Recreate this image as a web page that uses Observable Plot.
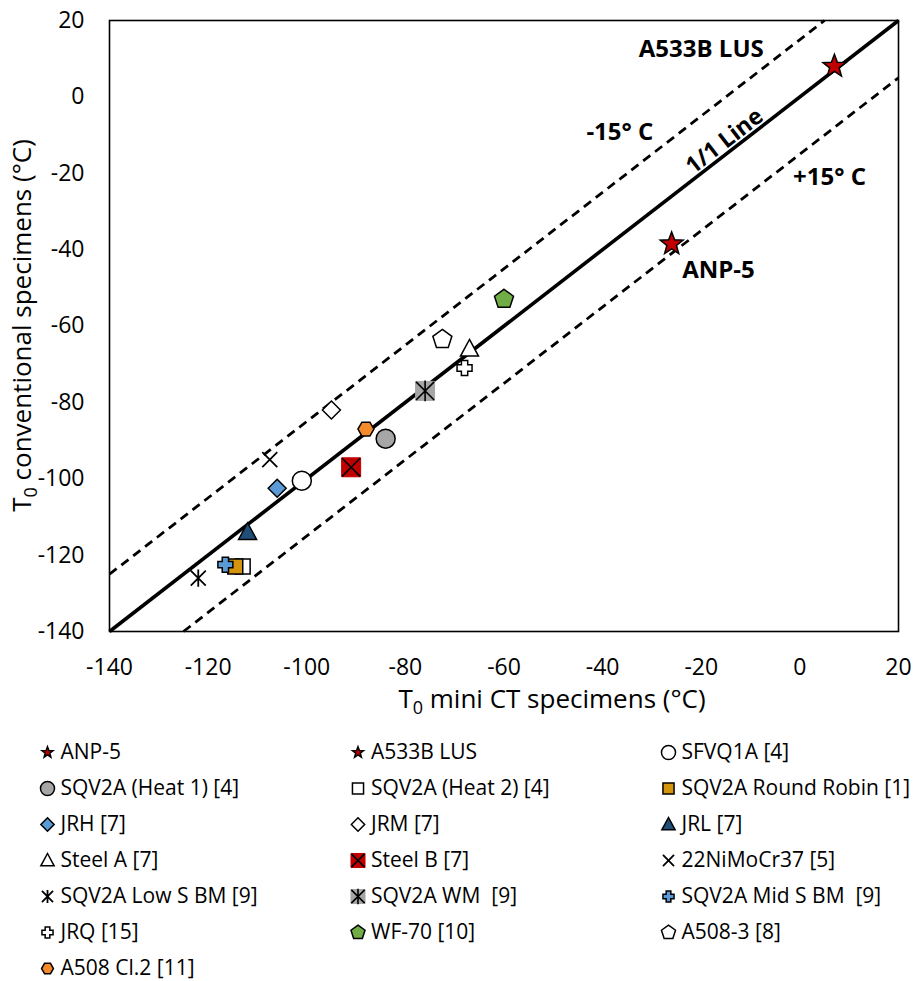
<!DOCTYPE html>
<html>
<head>
<meta charset="utf-8">
<script src="https://cdn.jsdelivr.net/npm/d3@7"></script>
<script src="https://cdn.jsdelivr.net/npm/@observablehq/plot@0.6"></script>
<style>
  body { margin: 0; background: #fff; font-family: "Open Sans", sans-serif; }
  #chart svg { display: block; }
</style>
</head>
<body>
<div id="chart"></div>
<script>
// ---------------- DATA ----------------
const series = [
  "ANP-5", "A533B LUS", "SFVQ1A [4]",
  "SQV2A (Heat 1) [4]", "SQV2A (Heat 2) [4]", "SQV2A Round Robin [1]",
  "JRH [7]", "JRM [7]", "JRL [7]",
  "Steel A [7]", "Steel B [7]", "22NiMoCr37 [5]",
  "SQV2A Low S BM [9]", "SQV2A WM  [9]", "SQV2A Mid S BM  [9]",
  "JRQ [15]", "WF-70 [10]", "A508-3 [8]",
  "A508 Cl.2 [11]"
];
// T0 from mini CT specimens (°C)
const t0MiniCT = [
  -26, 7, -101,
  -84, -113, -114.5,
  -106, -95, -112,
  -67, -91, -107.5,
  -122, -76, -116.5,
  -68, -60, -72.5,
  -88
];
// T0 from conventional specimens (°C)
const t0Conventional = [
  -38.5, 8, -100.5,
  -89.5, -123, -123,
  -102.5, -82, -114,
  -66, -97, -95,
  -126, -77, -122.5,
  -71, -53, -63.5,
  -87
];
const xTicks = [-140, -120, -100, -80, -60, -40, -20, 0, 20];
const yTicks = [-140, -120, -100, -80, -60, -40, -20, 0, 20];
const refOffsets = [0, 15, -15];            // 1/1 line and ±15 °C bands
const annotationText = ["A533B LUS", "-15° C", "1/1 Line", "+15° C", "ANP-5"];
const annotationX = [-20, -36.5, -15.3, 6, -16.5];
const annotationY = [12.4, -9.3, -11.6, -21.1, -45.5];

// ---------------- STYLE ----------------
const markerShape = [
  "star", "star", "circle",
  "circle", "square", "square",
  "diamond", "diamond", "triangle",
  "triangle", "squareX", "times",
  "asterisk", "squareAst", "plus",
  "plus", "pentagon", "pentagon",
  "hexagon"
];
const markerFill = [
  "#C00000", "#C00000", "#FFFFFF",
  "#A6A6A6", "#FFFFFF", "#D4940C",
  "#5B9BD5", "#FFFFFF", "#1F4E79",
  "#FFFFFF", "#C00000", "none",
  "none", "#A5A5A5", "#5B9BD5",
  "#FFFFFF", "#70AD47", "#FFFFFF",
  "#F58A2A"
];
const markerR = [
  12, 12, 9.5,
  9.5, 7.5, 7.5,
  9, 9, 9,
  9, 9.5, 7.5,
  7.5, 9.5, 7.5,
  7.5, 10, 10,
  8
];

const poly = pts => ({
  draw(ctx, size) {
    const r = Math.sqrt(size / Math.PI);
    pts.forEach(([x, y], i) => i ? ctx.lineTo(x * r, y * r) : ctx.moveTo(x * r, y * r));
    ctx.closePath();
  }
});
const ngon = (n, a0) => d3.range(n).map(i => [Math.cos(a0 + 2 * Math.PI * i / n), Math.sin(a0 + 2 * Math.PI * i / n)]);
const a = 0.42;
const SHAPES = {
  circle: { draw(ctx, size) { const r = Math.sqrt(size / Math.PI); ctx.moveTo(r, 0); ctx.arc(0, 0, r, 0, 2 * Math.PI); ctx.closePath(); } },
  square: poly([[-1, -1], [1, -1], [1, 1], [-1, 1]]),
  diamond: poly([[0, -1], [1, 0], [0, 1], [-1, 0]]),
  triangle: poly([[0, -1.05], [1, 0.8], [-1, 0.8]]),
  pentagon: poly(ngon(5, -Math.PI / 2)),
  hexagon: poly(ngon(6, 0)),
  plus: poly([[-a, -1], [a, -1], [a, -a], [1, -a], [1, a], [a, a], [a, 1], [-a, 1], [-a, a], [-1, a], [-1, -a], [-a, -a]]),
  star: poly(d3.range(10).map(i => { const t = -Math.PI / 2 + Math.PI * i / 5, k = i % 2 ? 0.42 : 1; return [k * Math.cos(t), k * Math.sin(t)]; })),
  times: { draw(ctx, size) { const r = Math.sqrt(size / Math.PI); ctx.moveTo(-r, -r); ctx.lineTo(r, r); ctx.moveTo(-r, r); ctx.lineTo(r, -r); } },
  asterisk: { draw(ctx, size) { const r = Math.sqrt(size / Math.PI); ctx.moveTo(-r, -r); ctx.lineTo(r, r); ctx.moveTo(-r, r); ctx.lineTo(r, -r); ctx.moveTo(0, -r * 1.15); ctx.lineTo(0, r * 1.15); } }
};

// build dot marks for a series (possibly layered shapes)
function seriesMarks(i, pos, rScale) {
  const shape = markerShape[i], fill = markerFill[i];
  const r = shape === "star" && rScale < 1 ? 5.8 : markerR[i] * rScale;
  const d = [pos];
  const base = { x: "x", y: "y", r };
  if (shape === "squareX" || shape === "squareAst") {
    return [
      Plot.dot(d, { ...base, symbol: SHAPES.square, fill, stroke: fill, strokeWidth: 1 }),
      Plot.dot(d, { ...base, r: r * 0.95, symbol: shape === "squareX" ? SHAPES.times : SHAPES.asterisk, fill: "none", stroke: "#000", strokeWidth: 1.6 })
    ];
  }
  if (shape === "times" || shape === "asterisk") {
    return [Plot.dot(d, { ...base, symbol: SHAPES[shape], fill: "none", stroke: "#000", strokeWidth: 1.8 })];
  }
  return [Plot.dot(d, { ...base, symbol: SHAPES[shape], fill, stroke: "#000", strokeWidth: 1.5 })];
}

// ---------------- MAIN CHART ----------------
const width = 921, height = 725;
const mL = 109, mR = 23, mT = 20, mB = 94;
const [lo, hi] = [-140, 20];

const refLines = refOffsets.map(off => {
  const x1 = Math.max(lo, lo - off), x2 = Math.min(hi, hi - off);
  return { off, x1, y1: x1 + off, x2, y2: x2 + off };
});
const points = series.map((s, i) => ({ name: s, x: t0MiniCT[i], y: t0Conventional[i] }));
const annotations = annotationText.map((t, i) => ({ t, x: annotationX[i], y: annotationY[i] }));
const lineAngle = -Math.atan((height - mT - mB) / (width - mL - mR)) * 180 / Math.PI;

const main = Plot.plot({
  width, height,
  marginLeft: mL, marginRight: mR, marginTop: mT, marginBottom: mB,
  style: { fontFamily: "'Open Sans', sans-serif", fontSize: "23px", color: "#000", background: "#fff", overflow: "visible" },
  x: { domain: [lo, hi], ticks: xTicks, tickSize: 0, tickPadding: 27, tickFormat: d => String(d), label: null },
  y: { domain: [lo, hi], ticks: yTicks, tickSize: 0, tickPadding: 25, tickFormat: d => String(d), label: null },
  marks: [
    Plot.link(refLines.filter(d => d.off !== 0), { x1: "x1", y1: "y1", x2: "x2", y2: "y2", stroke: "#000", strokeWidth: 2.8, strokeDasharray: "9,6" }),
    Plot.link(refLines.filter(d => d.off === 0), { x1: "x1", y1: "y1", x2: "x2", y2: "y2", stroke: "#000", strokeWidth: 3.6 }),
    ...points.flatMap((p, i) => seriesMarks(i, p, 1)),
    Plot.text(annotations.filter(d => d.t !== "1/1 Line"), { x: "x", y: "y", text: "t", fontWeight: "bold", fontSize: 24, fill: "#000" }),
    Plot.text(annotations.filter(d => d.t === "1/1 Line"), { x: "x", y: "y", text: "t", fontWeight: "bold", fontSize: 23, rotate: lineAngle, fill: "#000" }),
    Plot.frame({ stroke: "#000", strokeWidth: 1.6 })
  ]
});

// axis titles with subscript
const svg = d3.select(main);
const xt = svg.append("text")
  .attr("x", 552).attr("y", 708)
  .attr("text-anchor", "middle")
  .attr("font-size", 26).attr("fill", "#000");
xt.append("tspan").text("T");
xt.append("tspan").attr("font-size", 18).attr("dy", 6).text("0");
xt.append("tspan").attr("dy", -6).text(" mini CT specimens (°C)");

const yt = svg.append("text")
  .attr("transform", `translate(31,${(mT + height - mB) / 2}) rotate(-90)`)
  .attr("text-anchor", "middle")
  .attr("font-size", 26).attr("fill", "#000");
yt.append("tspan").text("T");
yt.append("tspan").attr("font-size", 18).attr("dy", 6).text("0");
yt.append("tspan").attr("dy", -6).text(" conventional specimens (°C)");

document.getElementById("chart").appendChild(main);

// ---------------- LEGEND ----------------
const legendItems = series.map((s, i) => ({ name: s, x: i % 3, y: Math.floor(i / 3) }));
const legend = Plot.plot({
  width, height: 256,
  margin: 0,
  style: { fontFamily: "'Open Sans', sans-serif", fontSize: "21px", color: "#000", background: "#fff", overflow: "visible" },
  x: { domain: [0, 2], range: [47, 668], axis: null },
  y: { domain: [0, 6], range: [27, 243], axis: null },
  marks: [
    ...legendItems.flatMap((p, i) => seriesMarks(i, p, 0.74)),
    Plot.text(legendItems, { x: "x", y: "y", text: "name", textAnchor: "start", dx: 13, fontSize: 21, fill: "#000" })
  ]
});
document.getElementById("chart").appendChild(legend);
</script>
</body>
</html>
